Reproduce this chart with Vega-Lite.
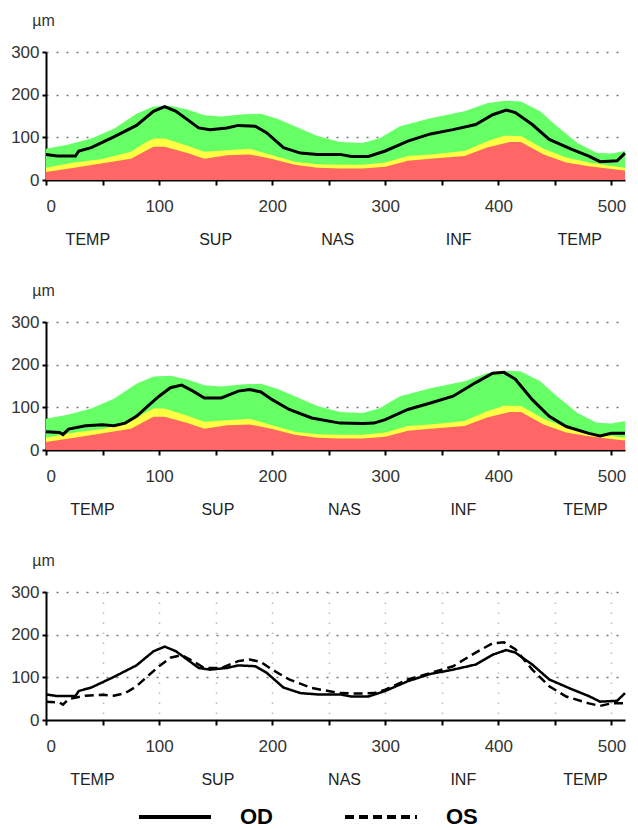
{
  "$schema": "https://vega.github.io/schema/vega-lite/v6.json",
  "padding": {"left": 10, "top": 12, "right": 0, "bottom": 0},
  "background": "white",
  "datasets": {
    "green": [
      {"x":0,"v":73},{"x":20,"v":83},{"x":40,"v":97},{"x":60,"v":120},{"x":80,"v":155},{"x":95,"v":172},{"x":110,"v":174},{"x":125,"v":165},{"x":140,"v":152},{"x":155,"v":149},{"x":175,"v":154},{"x":190,"v":155},{"x":205,"v":143},{"x":220,"v":126},{"x":240,"v":103},{"x":260,"v":89},{"x":280,"v":87},{"x":295,"v":98},{"x":313,"v":126},{"x":340,"v":145},{"x":370,"v":161},{"x":390,"v":180},{"x":405,"v":186},{"x":420,"v":184},{"x":437,"v":161},{"x":450,"v":130},{"x":470,"v":87},{"x":487,"v":64},{"x":500,"v":62},{"x":512,"v":68}
    ],
    "yellow": [
      {"x":0,"v":29},{"x":25,"v":41},{"x":50,"v":49},{"x":75,"v":66},{"x":88,"v":88},{"x":95,"v":97},{"x":105,"v":97},{"x":125,"v":80},{"x":140,"v":66},{"x":160,"v":70},{"x":180,"v":73},{"x":200,"v":58},{"x":220,"v":43},{"x":240,"v":37},{"x":260,"v":36},{"x":280,"v":36},{"x":300,"v":41},{"x":320,"v":56},{"x":340,"v":60},{"x":370,"v":68},{"x":390,"v":91},{"x":405,"v":104},{"x":420,"v":103},{"x":440,"v":73},{"x":460,"v":53},{"x":480,"v":41},{"x":500,"v":33},{"x":512,"v":29}
    ],
    "red": [
      {"x":0,"v":19},{"x":25,"v":29},{"x":50,"v":39},{"x":75,"v":50},{"x":95,"v":78},{"x":105,"v":78},{"x":125,"v":63},{"x":140,"v":50},{"x":160,"v":58},{"x":180,"v":60},{"x":200,"v":49},{"x":220,"v":36},{"x":240,"v":29},{"x":260,"v":27},{"x":280,"v":27},{"x":300,"v":31},{"x":320,"v":45},{"x":340,"v":50},{"x":370,"v":56},{"x":390,"v":76},{"x":410,"v":89},{"x":420,"v":89},{"x":440,"v":60},{"x":460,"v":41},{"x":480,"v":32},{"x":500,"v":26},{"x":512,"v":22}
    ],
    "eyes": [
      {"eye":"OD","x":0,"v":60},{"eye":"OD","x":10,"v":56},{"eye":"OD","x":26,"v":56},{"eye":"OD","x":29,"v":68},{"eye":"OD","x":40,"v":76},{"eye":"OD","x":60,"v":101},{"eye":"OD","x":80,"v":128},{"eye":"OD","x":95,"v":161},{"eye":"OD","x":105,"v":172},{"eye":"OD","x":115,"v":161},{"eye":"OD","x":135,"v":122},{"eye":"OD","x":145,"v":118},{"eye":"OD","x":160,"v":122},{"eye":"OD","x":170,"v":128},{"eye":"OD","x":185,"v":126},{"eye":"OD","x":195,"v":111},{"eye":"OD","x":210,"v":76},{"eye":"OD","x":225,"v":63},{"eye":"OD","x":240,"v":60},{"eye":"OD","x":260,"v":60},{"eye":"OD","x":270,"v":55},{"eye":"OD","x":285,"v":55},{"eye":"OD","x":300,"v":68},{"eye":"OD","x":320,"v":91},{"eye":"OD","x":340,"v":108},{"eye":"OD","x":360,"v":118},{"eye":"OD","x":380,"v":130},{"eye":"OD","x":395,"v":153},{"eye":"OD","x":407,"v":164},{"eye":"OD","x":415,"v":158},{"eye":"OD","x":430,"v":130},{"eye":"OD","x":445,"v":95},{"eye":"OD","x":465,"v":72},{"eye":"OD","x":480,"v":56},{"eye":"OD","x":490,"v":43},{"eye":"OD","x":505,"v":45},{"eye":"OD","x":512,"v":63},
      {"eye":"OS","x":0,"v":43},{"eye":"OS","x":12,"v":41},{"eye":"OS","x":15,"v":36},{"eye":"OS","x":20,"v":49},{"eye":"OS","x":35,"v":57},{"eye":"OS","x":50,"v":59},{"eye":"OS","x":60,"v":57},{"eye":"OS","x":70,"v":63},{"eye":"OS","x":80,"v":79},{"eye":"OS","x":90,"v":103},{"eye":"OS","x":100,"v":126},{"eye":"OS","x":110,"v":146},{"eye":"OS","x":120,"v":152},{"eye":"OS","x":130,"v":138},{"eye":"OS","x":140,"v":122},{"eye":"OS","x":155,"v":122},{"eye":"OS","x":170,"v":138},{"eye":"OS","x":180,"v":142},{"eye":"OS","x":190,"v":136},{"eye":"OS","x":200,"v":118},{"eye":"OS","x":215,"v":95},{"eye":"OS","x":235,"v":75},{"eye":"OS","x":260,"v":63},{"eye":"OS","x":280,"v":62},{"eye":"OS","x":290,"v":63},{"eye":"OS","x":300,"v":71},{"eye":"OS","x":320,"v":95},{"eye":"OS","x":340,"v":110},{"eye":"OS","x":360,"v":126},{"eye":"OS","x":380,"v":158},{"eye":"OS","x":395,"v":180},{"eye":"OS","x":405,"v":182},{"eye":"OS","x":415,"v":166},{"eye":"OS","x":430,"v":118},{"eye":"OS","x":445,"v":79},{"eye":"OS","x":460,"v":55},{"eye":"OS","x":480,"v":39},{"eye":"OS","x":490,"v":33},{"eye":"OS","x":500,"v":39},{"eye":"OS","x":512,"v":39}
    ],
    "regions": [
      {"p":1,"r":"TEMP","x":37},{"p":1,"r":"SUP","x":150},{"p":1,"r":"NAS","x":258},{"p":1,"r":"INF","x":365},{"p":1,"r":"TEMP","x":472},
      {"p":2,"r":"TEMP","x":41},{"p":2,"r":"SUP","x":152},{"p":2,"r":"NAS","x":264},{"p":2,"r":"INF","x":369},{"p":2,"r":"TEMP","x":477}
    ]
  },
  "vconcat": [
    {
      "width": 579, "height": 128,
      "layer": [
        {"data":{"name":"green"},"mark":{"type":"area","color":"#66ff66","opacity":1},
         "encoding":{
           "x":{"field":"x","type":"quantitative","scale":{"domain":[0,512],"nice":false},
                "axis":{"values":[0,50,100,150,200,250,300,350,400,450,500],"labelExpr":"datum.value % 100 === 0 ? datum.label : ''","grid":false,"tickSize":5,"labelPadding":13,"title":null}},
           "y":{"field":"v","type":"quantitative","scale":{"domain":[0,300],"nice":false},
                "axis":{"values":[0,50,100,150,200,250,300],"labelExpr":"datum.value % 100 === 0 ? datum.label : ''","grid":true,"gridOpacity":{"condition":{"test":"datum.value % 100 === 0 && datum.value > 0","value":1},"value":0},"tickSize":4,"labelPadding":3,"title":"µm","titleAngle":0,"titleAlign":"center","titleBaseline":"alphabetic","titleX":-3,"titleY":-27}}}},
        {"data":{"name":"yellow"},"mark":{"type":"area","color":"#ffff44","opacity":1},
         "encoding":{"x":{"field":"x","type":"quantitative"},"y":{"field":"v","type":"quantitative"}}},
        {"data":{"name":"red"},"mark":{"type":"area","color":"#ff6666","opacity":1},
         "encoding":{"x":{"field":"x","type":"quantitative"},"y":{"field":"v","type":"quantitative"}}},
        {"data":{"name":"eyes"},"transform":[{"filter":"datum.eye === 'OD'"}],"mark":{"type":"line","color":"black","strokeWidth":3},
         "encoding":{"x":{"field":"x","type":"quantitative"},"y":{"field":"v","type":"quantitative"}}},
        {"data":{"name":"regions"},"transform":[{"filter":"datum.p === 1"}],"mark":{"type":"text","fontSize":16,"font":"Liberation Sans","color":"#222","baseline":"middle","align":"center"},
         "encoding":{"x":{"field":"x","type":"quantitative"},"y":{"datum":-141,"type":"quantitative"},"text":{"field":"r"}}}
      ]
    },
    {
      "width": 579, "height": 128,
      "layer": [
        {"data":{"name":"green"},"mark":{"type":"area","color":"#66ff66","opacity":1},
         "encoding":{
           "x":{"field":"x","type":"quantitative","scale":{"domain":[0,512],"nice":false},
                "axis":{"values":[0,50,100,150,200,250,300,350,400,450,500],"labelExpr":"datum.value % 100 === 0 ? datum.label : ''","grid":false,"tickSize":5,"labelPadding":13,"title":null}},
           "y":{"field":"v","type":"quantitative","scale":{"domain":[0,300],"nice":false},
                "axis":{"values":[0,50,100,150,200,250,300],"labelExpr":"datum.value % 100 === 0 ? datum.label : ''","grid":true,"gridOpacity":{"condition":{"test":"datum.value % 100 === 0 && datum.value > 0","value":1},"value":0},"tickSize":4,"labelPadding":3,"title":"µm","titleAngle":0,"titleAlign":"center","titleBaseline":"alphabetic","titleX":-3,"titleY":-27}}}},
        {"data":{"name":"yellow"},"mark":{"type":"area","color":"#ffff44","opacity":1},
         "encoding":{"x":{"field":"x","type":"quantitative"},"y":{"field":"v","type":"quantitative"}}},
        {"data":{"name":"red"},"mark":{"type":"area","color":"#ff6666","opacity":1},
         "encoding":{"x":{"field":"x","type":"quantitative"},"y":{"field":"v","type":"quantitative"}}},
        {"data":{"name":"eyes"},"transform":[{"filter":"datum.eye === 'OS'"}],"mark":{"type":"line","color":"black","strokeWidth":3},
         "encoding":{"x":{"field":"x","type":"quantitative"},"y":{"field":"v","type":"quantitative"}}},
        {"data":{"name":"regions"},"transform":[{"filter":"datum.p === 2"}],"mark":{"type":"text","fontSize":16,"font":"Liberation Sans","color":"#222","baseline":"middle","align":"center"},
         "encoding":{"x":{"field":"x","type":"quantitative"},"y":{"datum":-141,"type":"quantitative"},"text":{"field":"r"}}}
      ]
    },
    {
      "width": 579, "height": 128,
      "layer": [
        {"data":{"name":"eyes"},"mark":{"type":"line","color":"black","strokeWidth":2.5},
         "encoding":{
           "x":{"field":"x","type":"quantitative","scale":{"domain":[0,512],"nice":false},
                "axis":{"values":[0,25,50,75,100,125,150,175,200,225,250,275,300,325,350,375,400,425,450,475,500],"labelExpr":"datum.value % 100 === 0 ? datum.label : ''","tickOpacity":{"condition":{"test":"datum.value % 50 === 0","value":1},"value":0},"grid":true,"gridColor":"#bbb","gridDash":[1.5,8.5],"gridOpacity":{"condition":{"test":"datum.value > 0","value":1},"value":0},"tickSize":5,"labelPadding":13,"title":null}},
           "y":{"field":"v","type":"quantitative","scale":{"domain":[0,300],"nice":false},
                "axis":{"values":[0,50,100,150,200,250,300],"labelExpr":"datum.value % 100 === 0 ? datum.label : ''","grid":true,"gridOpacity":{"condition":{"test":"datum.value > 0","value":1},"value":0},"tickSize":4,"labelPadding":3,"title":"µm","titleAngle":0,"titleAlign":"center","titleBaseline":"alphabetic","titleX":-3,"titleY":-27}},
           "strokeDash":{"field":"eye","type":"nominal","scale":{"domain":["OD","OS"],"range":[[1,0],[9,5]]},
                "legend":{"orient":"none","legendX":91,"legendY":727,"direction":"horizontal","title":null,"symbolType":"stroke","symbolSize":5184,"symbolStrokeWidth":4,"symbolStrokeColor":"black","labelFontSize":22,"labelFontWeight":"bold","labelFont":"Liberation Sans","labelColor":"black","columnPadding":64,"labelOffset":27}}}},
        {"data":{"name":"regions"},"transform":[{"filter":"datum.p === 2"}],"mark":{"type":"text","fontSize":16,"font":"Liberation Sans","color":"#222","baseline":"middle","align":"center"},
         "encoding":{"x":{"field":"x","type":"quantitative"},"y":{"datum":-141,"type":"quantitative"},"text":{"field":"r"}}}
      ]
    }
  ],
  "spacing": 142,
  "bounds": "flush",
  "config": {
    "font": "Liberation Sans",
    "view": {"stroke": null},
    "axis": {"domainColor":"black","domainWidth":2,"tickColor":"black","tickWidth":2,"labelFont":"Liberation Sans","labelFontSize":17,"labelColor":"#333","titleFont":"Liberation Sans","titleFontSize":16,"titleFontWeight":"normal","titleColor":"#333","gridColor":"#777","gridDash":[2,8],"gridWidth":1.5}
  }
}
